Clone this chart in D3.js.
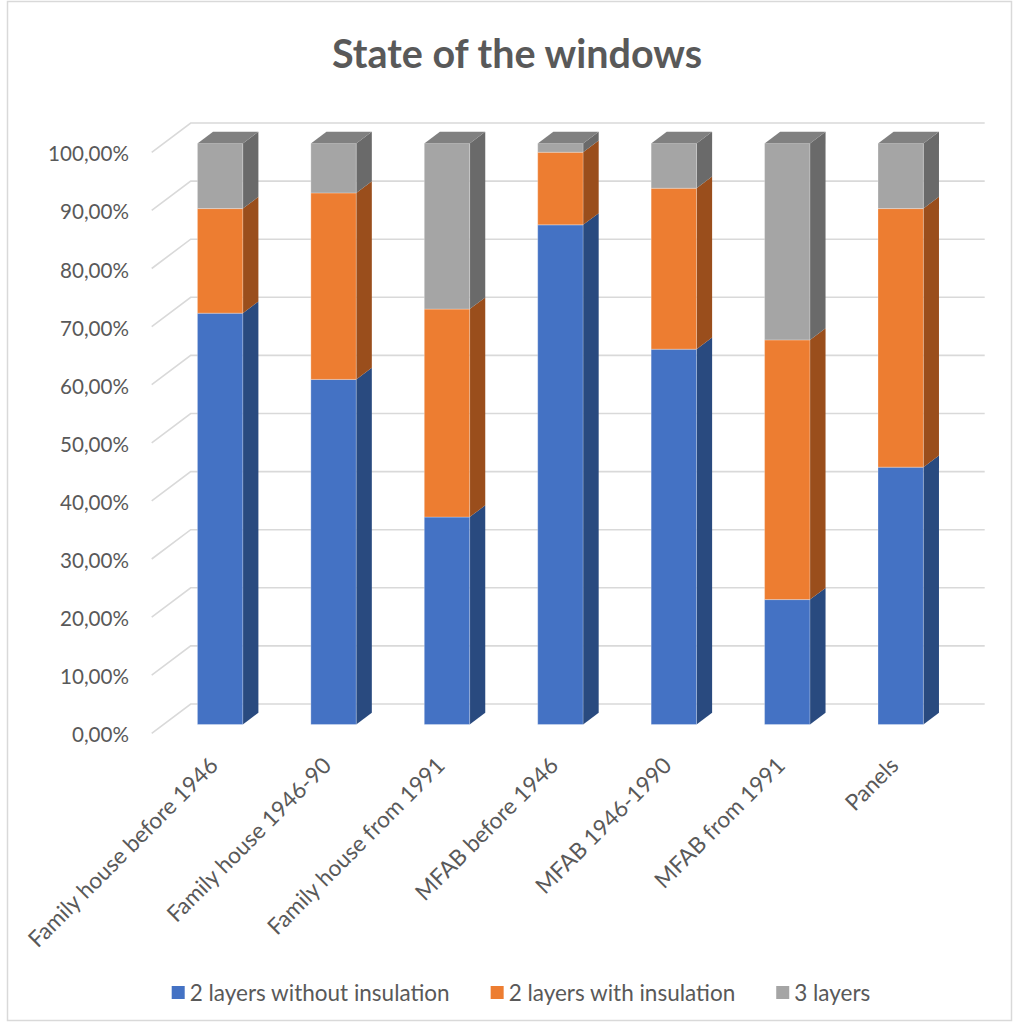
<!DOCTYPE html>
<html>
<head>
<meta charset="utf-8">
<script src="https://cdn.jsdelivr.net/npm/d3@7"></script>
<style>
  html, body { margin: 0; padding: 0; background: #fff; }
  svg { display: block; }
  text { font-family: Lato, "Open Sans", sans-serif; fill: #595959; }
</style>
</head>
<body>
<script>
// ---- data ----
const title = "State of the windows";
const categories = ["Family house before 1946", "Family house 1946-90", "Family house from 1991",
  "MFAB before 1946", "MFAB 1946-1990", "MFAB from 1991", "Panels"];
const seriesNames = ["2 layers without insulation", "2 layers with insulation", "3 layers"];
const withoutInsulation = [0.708, 0.594, 0.357, 0.860, 0.646, 0.215, 0.443];
const withInsulation    = [0.180, 0.321, 0.358, 0.125, 0.277, 0.447, 0.445];
const threeLayers       = [0.112, 0.085, 0.285, 0.015, 0.077, 0.338, 0.112];
const yTicks = [0, 0.1, 0.2, 0.3, 0.4, 0.5, 0.6, 0.7, 0.8, 0.9, 1.0];

// ---- styling ----
const frontColors = ["#4472C4", "#ED7D31", "#A5A5A5"];
const sideColors  = ["#294A7F", "#9A4E1C", "#6A6A6A"];
const topColors   = ["#35599A", "#BA6226", "#808080"];

const W = 1014, H = 1025;
const svg = d3.select("body").append("svg").attr("width", W).attr("height", H);
svg.append("rect").attr("x", 0).attr("y", 0).attr("width", W).attr("height", H).attr("fill", "#fff");
svg.append("rect").attr("x", 7.5).attr("y", 1.5).attr("width", 1004).attr("height", 1019)
  .attr("fill", "none").attr("stroke", "#d9d9d9").attr("stroke-width", 1.5);

// table for the stack
const table = categories.map((c, i) => ({
  category: c,
  [seriesNames[0]]: withoutInsulation[i],
  [seriesNames[1]]: withInsulation[i],
  [seriesNames[2]]: threeLayers[i]
}));
const stacked = d3.stack().keys(seriesNames)(table);

// scales (front plane of the 3D box)
const x = d3.scaleBand().domain(categories).range([151.7, 945.7]).paddingInner(0.6).paddingOuter(0.3);
const y = d3.scaleLinear().domain([0, 1]).range([733.3, 152.3]);
const depth = { dx: 39, dy: -29.3 };
const P = (px, py, t) => [px + depth.dx * t, py + depth.dy * t];
const xLeft = x.range()[0], xRight = x.range()[1];

// gridlines (side wall + back wall)
const grid = svg.append("g").attr("fill", "none").attr("stroke", "#d9d9d9").attr("stroke-width", 1.6);
grid.selectAll("path").data(yTicks).join("path")
  .attr("d", v => {
    const a = P(xLeft, y(v), 0), b = P(xLeft, y(v), 1), c = P(xRight, y(v), 1);
    return `M${a}L${b}L${c}`;
  });

// bars
const t0 = 0.3, t1 = 0.7;
const poly = pts => "M" + pts.map(p => p.join(",")).join("L") + "Z";
const bw = x.bandwidth();
const barsG = svg.append("g");
categories.forEach((cat, ci) => {
  const g = barsG.append("g");
  stacked.forEach((layer, li) => {
    const d = layer[ci];
    const x0 = x(cat), x1 = x0 + bw;
    const yb = y(d[0]), yt = y(d[1]);
    g.append("path")
      .attr("d", poly([P(x1, yb, t0), P(x1, yt, t0), P(x1, yt, t1), P(x1, yb, t1)]))
      .attr("fill", sideColors[li]);
    g.append("path")
      .attr("d", poly([P(x0, yb, t0), P(x0, yt, t0), P(x1, yt, t0), P(x1, yb, t0)]))
      .attr("fill", frontColors[li])
      .attr("stroke", "rgba(255,255,255,0.35)").attr("stroke-width", 0.8);
    if (li === stacked.length - 1) {
      g.append("path")
        .attr("d", poly([P(x0, yt, t0), P(x1, yt, t0), P(x1, yt, t1), P(x0, yt, t1)]))
        .attr("fill", topColors[li]);
    }
  });
});

// y axis labels
const locale = d3.formatLocale({ decimal: ",", thousands: " ", grouping: [3], currency: ["", ""], percent: "%" });
const pct = locale.format(".2%");
const yAxis = svg.append("g").attr("transform", "translate(140,2)")
  .call(d3.axisLeft(y).tickValues(yTicks).tickSize(0).tickPadding(11).tickFormat(pct));
yAxis.select(".domain").remove();
yAxis.selectAll("text").attr("font-size", 20.6).attr("fill", "#595959")
  .style("font-family", "Lato, sans-serif");

// x axis labels (rotated)
const xAxis = svg.append("g").attr("transform", "translate(11,767)")
  .call(d3.axisBottom(x).tickSize(0).tickPadding(0));
xAxis.select(".domain").remove();
xAxis.selectAll("text")
  .attr("y", 0).attr("x", 0).attr("dy", 0)
  .attr("transform", "rotate(-45)")
  .attr("text-anchor", "end")
  .attr("font-size", 22.6).attr("fill", "#595959")
  .style("font-family", "Lato, sans-serif");

// title
svg.append("text").attr("x", 517).attr("y", 68).attr("text-anchor", "middle")
  .attr("font-size", 39.5).attr("font-weight", "bold").text(title);

// legend
const legend = svg.append("g");
const items = legend.selectAll("g").data(seriesNames).join("g");
items.append("rect").attr("width", 13).attr("height", 13).attr("y", 986)
  .attr("fill", (d, i) => frontColors[i]);
items.append("text").attr("x", 18).attr("y", 1000.5).attr("font-size", 22.5).text(d => d);
const widths = [];
items.each(function () { widths.push(18 + this.querySelector("text").getComputedTextLength()); });
const gap = 41;
const total = d3.sum(widths) + gap * (widths.length - 1);
let start = 521 - total / 2;
items.attr("transform", (d, i) => {
  const tx = start; start += widths[i] + gap; return `translate(${tx},0)`;
});
</script>
</body>
</html>
